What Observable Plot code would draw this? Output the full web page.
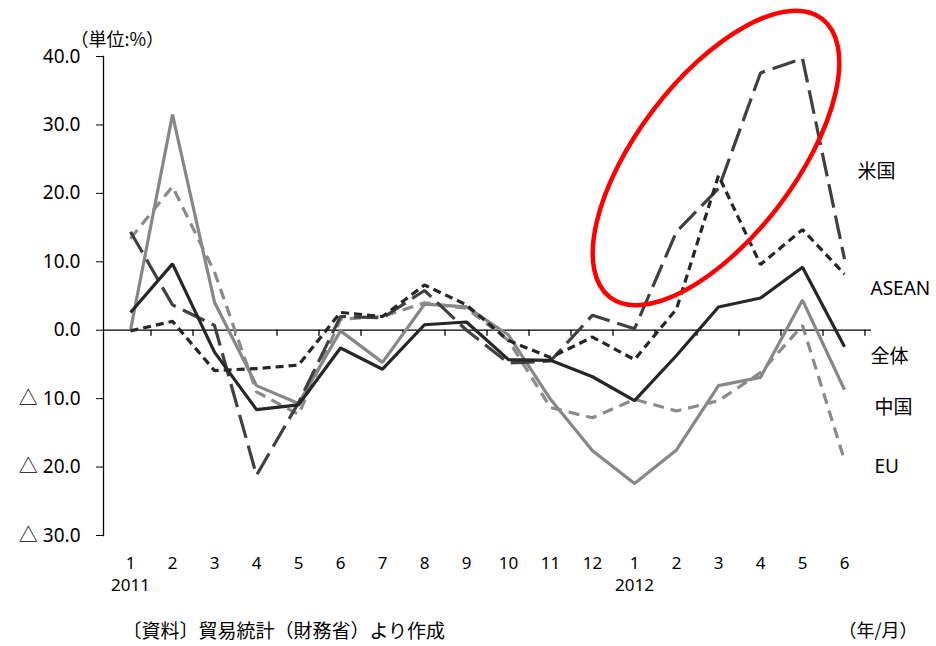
<!DOCTYPE html>
<html>
<head>
<meta charset="utf-8">
<script src="https://cdn.jsdelivr.net/npm/d3@7"></script>
<script src="https://cdn.jsdelivr.net/npm/@observablehq/plot@0.6"></script>
<style>
  body { margin: 0; background: #fff; }
  svg { display: block; }
</style>
</head>
<body>
<div id="chart"></div>
<script>
// ---- Data ----
const periods = ["2011-1","2011-2","2011-3","2011-4","2011-5","2011-6","2011-7","2011-8","2011-9","2011-10","2011-11","2011-12",
                 "2012-1","2012-2","2012-3","2012-4","2012-5","2012-6"];
const monthLabels = ["1","2","3","4","5","6","7","8","9","10","11","12","1","2","3","4","5","6"];
const yearLabels = [{period: "2011-1", label: "2011"}, {period: "2012-1", label: "2012"}];
const yTicks = [-30, -20, -10, 0, 10, 20, 30, 40];

const total = [2.6, 9.7, -3.2, -11.6, -10.9, -2.6, -5.7, 0.8, 1.2, -4.3, -4.4, -6.8, -10.3, -3.7, 3.4, 4.7, 9.2, -2.4];
const china = [0.0, 31.5, 4.1, -8.1, -10.7, -0.1, -4.7, 3.8, 3.4, -0.7, -10.1, -17.6, -22.4, -17.5, -8.1, -6.9, 4.4, -8.7];
const usa   = [14.4, 3.7, 0.7, -21.2, -10.6, 2.0, 1.8, 5.8, 0.0, -4.8, -4.5, 2.2, 0.2, 14.4, 20.7, 37.6, 39.7, 10.4];
const asean = [-0.1, 1.3, -5.9, -5.6, -5.1, 2.6, 2.0, 6.6, 3.7, -1.5, -4.0, -1.0, -4.3, 3.1, 22.6, 9.6, 14.7, 8.2];
const eu    = [13.4, 21.0, 8.5, -9.0, -12.3, 1.6, 2.0, 4.0, 3.2, -1.5, -11.3, -12.8, -10.1, -11.8, -10.3, -6.2, 0.7, -19.0];

const seriesNames = ["米国", "ASEAN", "全体", "中国", "EU"];
const labelValues = [23.1, 6.0, -3.9, -11.3, -20.0];

const unitLabel = "（単位:%）";
const periodLabel = "（年/月）";
const sourceLabel = "〔資料〕貿易統計（財務省）より作成";

// highlight annotation (red ellipse) centred near 2012-3
const highlight = {period: "2012-3", value: 25.1};

// ---- Build ----
const series = [
  {name: "中国",  values: china, stroke: "#878787", dash: null},
  {name: "EU",    values: eu,    stroke: "#8a8a8a", dash: "11,7"},
  {name: "米国",  values: usa,   stroke: "#404040", dash: "24,8"},
  {name: "ASEAN", values: asean, stroke: "#262626", dash: "8,5"},
  {name: "全体",  values: total, stroke: "#262626", dash: null}
];
const rows = series.flatMap(s => periods.map((p, i) => ({name: s.name, period: p, value: s.values[i]})));
const monthOf = new Map(periods.map((p, i) => [p, monthLabels[i]]));
const labels = seriesNames.map((n, i) => ({name: n, value: labelValues[i]}));
const labelDx = {"米国": -14, "ASEAN": -1, "全体": -1, "中国": 3, "EU": 3};

const FONT = "'Noto Sans', 'Noto Sans CJK JP', sans-serif";
const JFONT = "'Noto Sans CJK JP', 'Noto Sans', sans-serif";

const boundaryTicks = (index, scales) => {
  const g = d3.create("svg:g");
  const xs = periods.map(p => scales.x(p));
  const step = xs[1] - xs[0];
  const y0 = scales.y(0);
  xs.forEach((x, i) => {
    const bx = i < xs.length - 1 ? (x + xs[i + 1]) / 2 : x + step / 2;
    g.append("line").attr("x1", bx).attr("x2", bx).attr("y1", y0).attr("y2", y0 + 6)
      .attr("stroke", "#000").attr("stroke-width", 1.3);
  });
  return g.node();
};

const ellipseMark = (index, scales) => {
  const cx = scales.x(highlight.period) - 2;
  const cy = scales.y(highlight.value);
  return d3.create("svg:ellipse")
    .attr("cx", 0).attr("cy", 0).attr("rx", 175).attr("ry", 79)
    .attr("transform", `translate(${cx},${cy}) rotate(-52.7)`)
    .attr("fill", "none").attr("stroke", "#ff0000").attr("stroke-width", 4.5)
    .node();
};

const chart = Plot.plot({
  width: 936,
  height: 646,
  marginLeft: 103,
  marginRight: 65,
  marginTop: 56,
  marginBottom: 111,
  style: {fontFamily: FONT, background: "#fff", color: "#000"},
  x: {type: "point", domain: periods, padding: 0.5},
  y: {domain: [-30, 40]},
  marks: [
    Plot.frame({anchor: "left", stroke: "#000", strokeWidth: 1.3}),
    Plot.axisY({ticks: yTicks, tickSize: 7, tickPadding: 16, fontSize: 19, label: null,
      tickFormat: d => d < 0 ? "△ " + (-d).toFixed(1) : d.toFixed(1)}),
    Plot.axisX({tickSize: 0, tickPadding: 21, fontSize: 17, label: null, tickFormat: d => monthOf.get(d)}),
    Plot.ruleY([0], {stroke: "#000", strokeWidth: 1.3}),
    boundaryTicks,
    ...series.map(s => Plot.line(rows.filter(r => r.name === s.name), {
      x: "period", y: "value", stroke: s.stroke, strokeWidth: 3.2,
      strokeDasharray: s.dash, strokeLinejoin: "miter", strokeLinecap: "butt"
    })),
    Plot.text(yearLabels, {x: "period", text: "label", frameAnchor: "bottom", dy: 55, fontSize: 17, fill: "#000"}),
    ...labels.map(l => Plot.text([l], {y: "value", text: "name", frameAnchor: "right", textAnchor: "start",
      dx: labelDx[l.name], fontSize: 19, fill: "#000"})),
    Plot.text([unitLabel], {frameAnchor: "top-left", textAnchor: "start", dx: -33, dy: -23, fontSize: 18,
      fontFamily: JFONT, fill: "#000"}),
    Plot.text([periodLabel], {frameAnchor: "bottom-right", textAnchor: "end", dx: 46, dy: 101, fontSize: 18,
      fontFamily: JFONT, fill: "#000"}),
    Plot.text([sourceLabel], {frameAnchor: "bottom-left", textAnchor: "start", dx: 19, dy: 102, fontSize: 19,
      fontFamily: JFONT, fill: "#000"}),
    ellipseMark
  ]
});
document.getElementById("chart").appendChild(chart);
</script>
</body>
</html>
